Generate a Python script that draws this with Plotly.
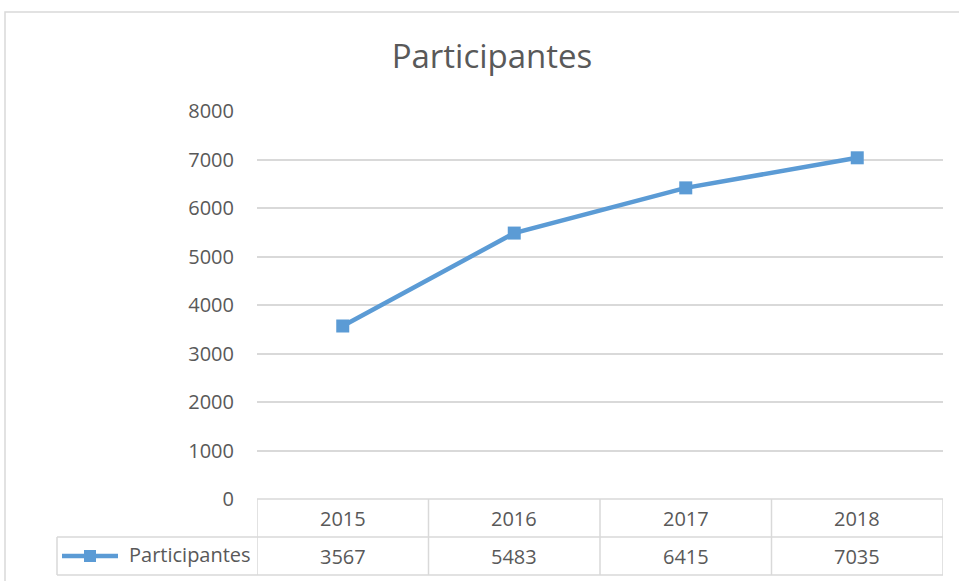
import plotly.graph_objects as go

years = ["2015", "2016", "2017", "2018"]
participantes = [3567, 5483, 6415, 7035]
series_name = "Participantes"
y_ticks = [0, 1000, 2000, 3000, 4000, 5000, 6000, 7000, 8000]

W, H = 959, 581
L, R, T, B = 257, 16, 111, 82
plot_w = W - L - R
plot_h = H - T - B

blue = "#5B9BD5"
grey_txt = "#595959"
grid = "#d9d9d9"
font = "Open Sans"
fs = 20


def px_y(py):
    # pixel row -> paper y
    return (H - B - py) / plot_h


def px_x(px):
    return (px - L) / plot_w


fig = go.Figure()
fig.add_trace(go.Scatter(
    x=list(range(len(years))), y=participantes, mode="lines+markers",
    line=dict(color=blue, width=4.5),
    marker=dict(symbol="square", size=13, color=blue),
    name=series_name, showlegend=False, hoverinfo="skip"))

shapes = []
line_style = dict(color=grid, width=1.5)
n = len(years)
# table grid
shapes.append(dict(type="line", xref="x", yref="paper", x0=-0.5, x1=n - 0.5,
                   y0=0, y1=0, line=line_style))
row1 = px_y(537)
row2 = px_y(575)
for yy in (row1, row2):
    shapes.append(dict(type="line", xref="paper", yref="paper", x0=px_x(57), x1=1,
                       y0=yy, y1=yy, line=line_style))
for i in range(n + 1):
    shapes.append(dict(type="line", xref="x", yref="paper", x0=i - 0.5, x1=i - 0.5,
                       y0=0, y1=row2, line=line_style))
shapes.append(dict(type="line", xref="paper", yref="paper", x0=px_x(57), x1=px_x(57),
                   y0=row1, y1=row2, line=line_style))
# legend key
leg_y = px_y(556)
shapes.append(dict(type="line", xref="paper", yref="paper", x0=px_x(62), x1=px_x(118),
                   y0=leg_y, y1=leg_y, line=dict(color=blue, width=4.5)))
shapes.append(dict(type="rect", xref="paper", yref="paper", x0=px_x(84), x1=px_x(96),
                   y0=px_y(562), y1=px_y(550), line=dict(width=0), fillcolor=blue))
# outer chart border
shapes.append(dict(type="rect", xref="paper", yref="paper", x0=px_x(5), x1=px_x(965),
                   y0=px_y(590), y1=px_y(12), line=dict(color=grid, width=1.5)))

annotations = []
for i, (yr, v) in enumerate(zip(years, participantes)):
    annotations.append(dict(x=i, y=px_y(518), xref="x", yref="paper", text=yr,
                            showarrow=False, xanchor="center", yanchor="middle",
                            font=dict(size=fs, color=grey_txt, family=font)))
    annotations.append(dict(x=i, y=px_y(556), xref="x", yref="paper", text=str(v),
                            showarrow=False, xanchor="center", yanchor="middle",
                            font=dict(size=fs, color=grey_txt, family=font)))
annotations.append(dict(x=px_x(253), y=px_y(554), xref="paper", yref="paper",
                        text=series_name, showarrow=False, xanchor="right", yanchor="middle",
                        font=dict(size=fs, color=grey_txt, family=font)))

fig.update_layout(
    width=W, height=H,
    margin=dict(l=L, r=R, t=T, b=B),
    paper_bgcolor="white", plot_bgcolor="white",
    title=dict(text=series_name, x=492 / W, xanchor="center", y=1 - 56 / H, yanchor="middle",
               font=dict(size=33, color=grey_txt, family=font)),
    xaxis=dict(range=[-0.5, n - 0.5], showticklabels=False, showgrid=False,
               zeroline=False, fixedrange=True),
    yaxis=dict(range=[0, 8000], tickvals=y_ticks, showgrid=True, gridcolor=grid,
               gridwidth=1.5, zeroline=False, ticks="", ticklen=0,
               tickfont=dict(size=fs, color=grey_txt, family=font), ticklabelstandoff=22),
    shapes=shapes, annotations=annotations,
)

fig.write_html("out.html", config={"displayModeBar": False},
               post_script="document.body.style.margin='0';")
